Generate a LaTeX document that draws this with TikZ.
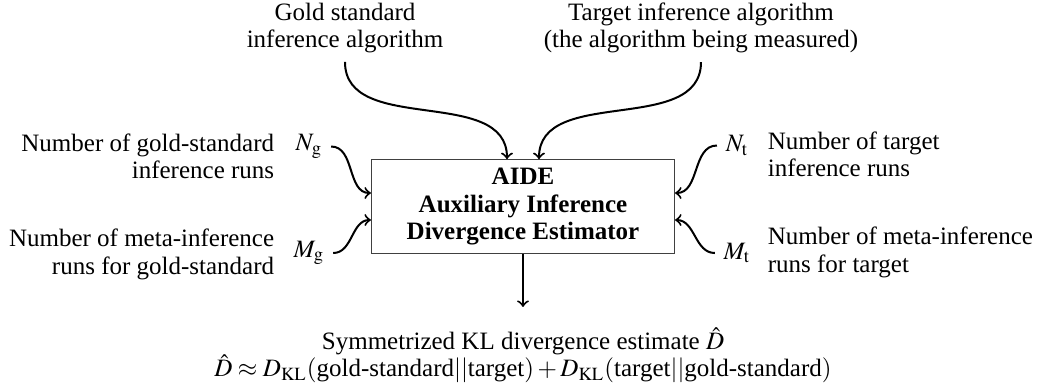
\documentclass[tikz,border=0pt]{standalone}
\usepackage{amsmath}
\usepackage{mathptmx}
\usepackage[no-math]{fontspec}
\setmainfont{Liberation Serif}
\usetikzlibrary{positioning}
\tikzset{
  aide text/.style={font=\fontsize{10}{11}\selectfont},
  aide box/.style={
    draw=black!75,
    line width=0.45pt,
    align=center,
    font=\fontsize{10}{11}\selectfont\bfseries,
    minimum width=121.2pt,
    minimum height=37.2pt
  },
  aide source/.style={aide text, align=center},
  aide left text/.style={aide text, align=right, anchor=east},
  aide right text/.style={aide text, align=left, anchor=west},
  aide count/.style={aide text},
  aide arrow/.style={->, line width=0.8pt}
}
\newcommand{\aideCount}[3]{%
  \node[aide count] (#1) at (#2) {$#3$};%
}

\begin{document}
\begin{tikzpicture}[x=0.4pt,y=0.4pt]
  \useasboundingbox (-523,-176.5) rectangle (516,206.5);

  \node[aide box] (aide) at (0,0)
    {AIDE\\ Auxiliary Inference\\ Divergence Estimator};

  \node[aide source] (gold) at (-178,178.5)
    {Gold standard\\ inference algorithm};
  \node[aide source] (target) at (178,178.5)
    {Target inference algorithm\\ (the algorithm being measured)};

  \aideCount{ng}{-214,60}{N_{\mathrm{g}}}
  \aideCount{mg}{-214,-46.5}{M_{\mathrm{g}}}
  \aideCount{nt}{214,61}{N_{\mathrm{t}}}
  \aideCount{mt}{214,-46.5}{M_{\mathrm{t}}}

  \node[aide left text] (ngtext) at (-240,50)
    {Number of gold-standard\\ inference runs};
  \node[aide left text] (mgtext) at (-240,-48)
    {Number of meta-inference\\ runs for gold-standard};
  \node[aide right text] (nttext) at (236,52)
    {Number of target\\ inference runs};
  \node[aide right text] (mttext) at (236,-46)
    {Number of meta-inference\\ runs for target};

  \draw[aide arrow] (gold.south) to[out=-90,in=90] ([xshift=-6.4pt]aide.north);
  \draw[aide arrow] (target.south) to[out=-90,in=90] ([xshift=6.4pt]aide.north);

  \draw[aide arrow] (ng.east) to[out=0,in=180] ([yshift=5.4pt]aide.west);
  \draw[aide arrow] (mg.east) to[out=0,in=180] ([yshift=-5.4pt]aide.west);
  \draw[aide arrow] (nt.west) to[out=180,in=0] ([yshift=5.4pt]aide.east);
  \draw[aide arrow] (mt.west) to[out=180,in=0] ([yshift=-5.4pt]aide.east);

  \node[aide source, below=26pt of aide] (estimate)
    {Symmetrized KL divergence estimate $\hat{D}$\\
     $\hat{D} \approx D_{\mathrm{KL}}(\text{gold-standard}||\text{target})
      + D_{\mathrm{KL}}(\text{target}||\text{gold-standard})$};
  \draw[aide arrow, shorten >=4.8pt] (aide.south) -- (estimate.north);
\end{tikzpicture}
\end{document}
